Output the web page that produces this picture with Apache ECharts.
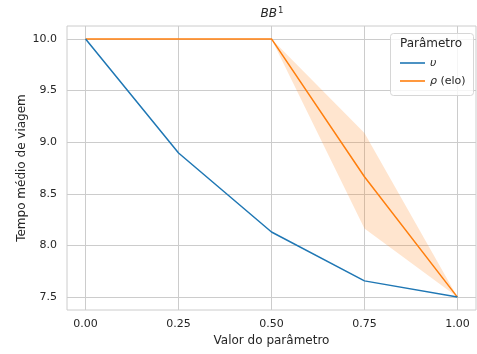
<!DOCTYPE html>
<html>
<head>
<meta charset="utf-8">
<script src="https://cdn.jsdelivr.net/npm/echarts@6/dist/echarts.min.js"></script>
<style>html,body{margin:0;padding:0;background:#fff}#c{width:477px;height:354px}</style>
</head>
<body>
<div id="c"></div>
<script>
const xVals = [0, 0.25, 0.5, 0.75, 1.0];
const upsilon = [10.0, 8.895, 8.13, 7.657, 7.5];
const rhoMean = [10.0, 10.0, 10.0, 8.665, 7.5];
const rhoLow = [10.0, 10.0, 10.0, 8.165, 7.5];
const rhoHigh = [10.0, 10.0, 10.0, 9.09, 7.5];
const xTicks = [0, 0.25, 0.5, 0.75, 1.0];
const yTicks = [7.5, 8.0, 8.5, 9.0, 9.5, 10.0];

const FONT = 'DejaVu Sans';
const BLUE = '#1f77b4', ORANGE = '#ff7f0e';
const chart = echarts.init(document.getElementById('c'));

const bandData = xVals.map((x, i) => [x, rhoLow[i], rhoHigh[i]]);

chart.setOption({
  animation: false,
  textStyle: { fontFamily: FONT },
  grid: { left: 67, right: 1, top: 26, bottom: 44, show: true, borderColor: '#cccccc', borderWidth: 1, backgroundColor: 'transparent' },
  xAxis: {
    type: 'value', min: -0.05, max: 1.05,
    name: 'Valor do parâmetro', nameLocation: 'middle', nameGap: 25,
    nameTextStyle: { fontSize: 12, color: '#262626', fontFamily: FONT },
    axisLine: { show: false },
    axisTick: { show: false, customValues: xTicks },
    axisLabel: { customValues: xTicks, fontSize: 11, color: '#262626', margin: 9, formatter: v => v.toFixed(2), fontFamily: FONT },
    splitLine: { show: true, lineStyle: { color: '#cccccc', width: 1 } }
  },
  yAxis: {
    type: 'value', min: 7.375, max: 10.125,
    name: 'Tempo médio de viagem', nameLocation: 'middle', nameGap: 39, nameMoveOverlap: false,
    nameTextStyle: { fontSize: 12, color: '#262626', fontFamily: FONT },
    axisLine: { show: false },
    axisTick: { show: false, customValues: yTicks },
    axisLabel: { customValues: yTicks, fontSize: 11, color: '#262626', margin: 10, formatter: v => v.toFixed(1), fontFamily: FONT },
    splitLine: { show: true, lineStyle: { color: '#cccccc', width: 1 } }
  },
  legend: {
    orient: 'vertical', left: 395, top: 51, itemWidth: 25, itemHeight: 1.6, itemGap: 4,
    icon: 'rect',
    data: ['υ', 'ρ (elo)'],
    formatter: function (n) {
      if (n === 'υ') return '{i|υ}';
      return '{i|ρ} (elo)';
    },
    textStyle: {
      fontSize: 11, color: '#262626', fontFamily: FONT, lineHeight: 14,
      rich: { i: { fontStyle: 'italic', fontSize: 11, color: '#262626', fontFamily: FONT, lineHeight: 14 } }
    }
  },
  graphic: [
    { type: 'rect', left: 390, top: 33, z: 3, shape: { width: 83, height: 62, r: 3 },
      style: { fill: 'rgba(255,255,255,0.8)', stroke: '#d6d6d6', lineWidth: 1 } },
    { type: 'text', x: 431, y: 44, z: 6, style: { text: 'Parâmetro', fontSize: 12, fill: '#262626', fontFamily: FONT, align: 'center', verticalAlign: 'middle' } },
    { type: 'text', x: 272, y: 14, z: 6, style: {
        text: '{i|BB}{s|1}', align: 'center', verticalAlign: 'middle',
        rich: {
          i: { fontStyle: 'italic', fontSize: 12, fill: '#262626', fontFamily: FONT },
          s: { fontSize: 8.5, fill: '#262626', fontFamily: FONT, padding: [0, 0, 7, 1] }
        }
    } }
  ],
  series: [
    {
      type: 'custom', name: 'band', silent: true, z: 1,
      data: bandData,
      encode: { x: 0, y: [1, 2] },
      renderItem: function (params, api) {
        if (params.dataIndex !== 0) return null;
        const top = bandData.map(d => api.coord([d[0], d[2]]));
        const bot = bandData.slice().reverse().map(d => api.coord([d[0], d[1]]));
        return { type: 'polygon', shape: { points: top.concat(bot) },
          style: { fill: 'rgba(255,127,14,0.2)', stroke: 'none' } };
      }
    },
    { type: 'line', name: 'ρ (elo)', data: xVals.map((x, i) => [x, rhoMean[i]]), symbol: 'none', z: 2,
      lineStyle: { color: ORANGE, width: 1.5 }, itemStyle: { color: ORANGE } },
    { type: 'line', name: 'υ', data: xVals.map((x, i) => [x, upsilon[i]]), symbol: 'none', z: 2,
      lineStyle: { color: BLUE, width: 1.5 }, itemStyle: { color: BLUE } }
  ]
});
</script>
</body>
</html>
